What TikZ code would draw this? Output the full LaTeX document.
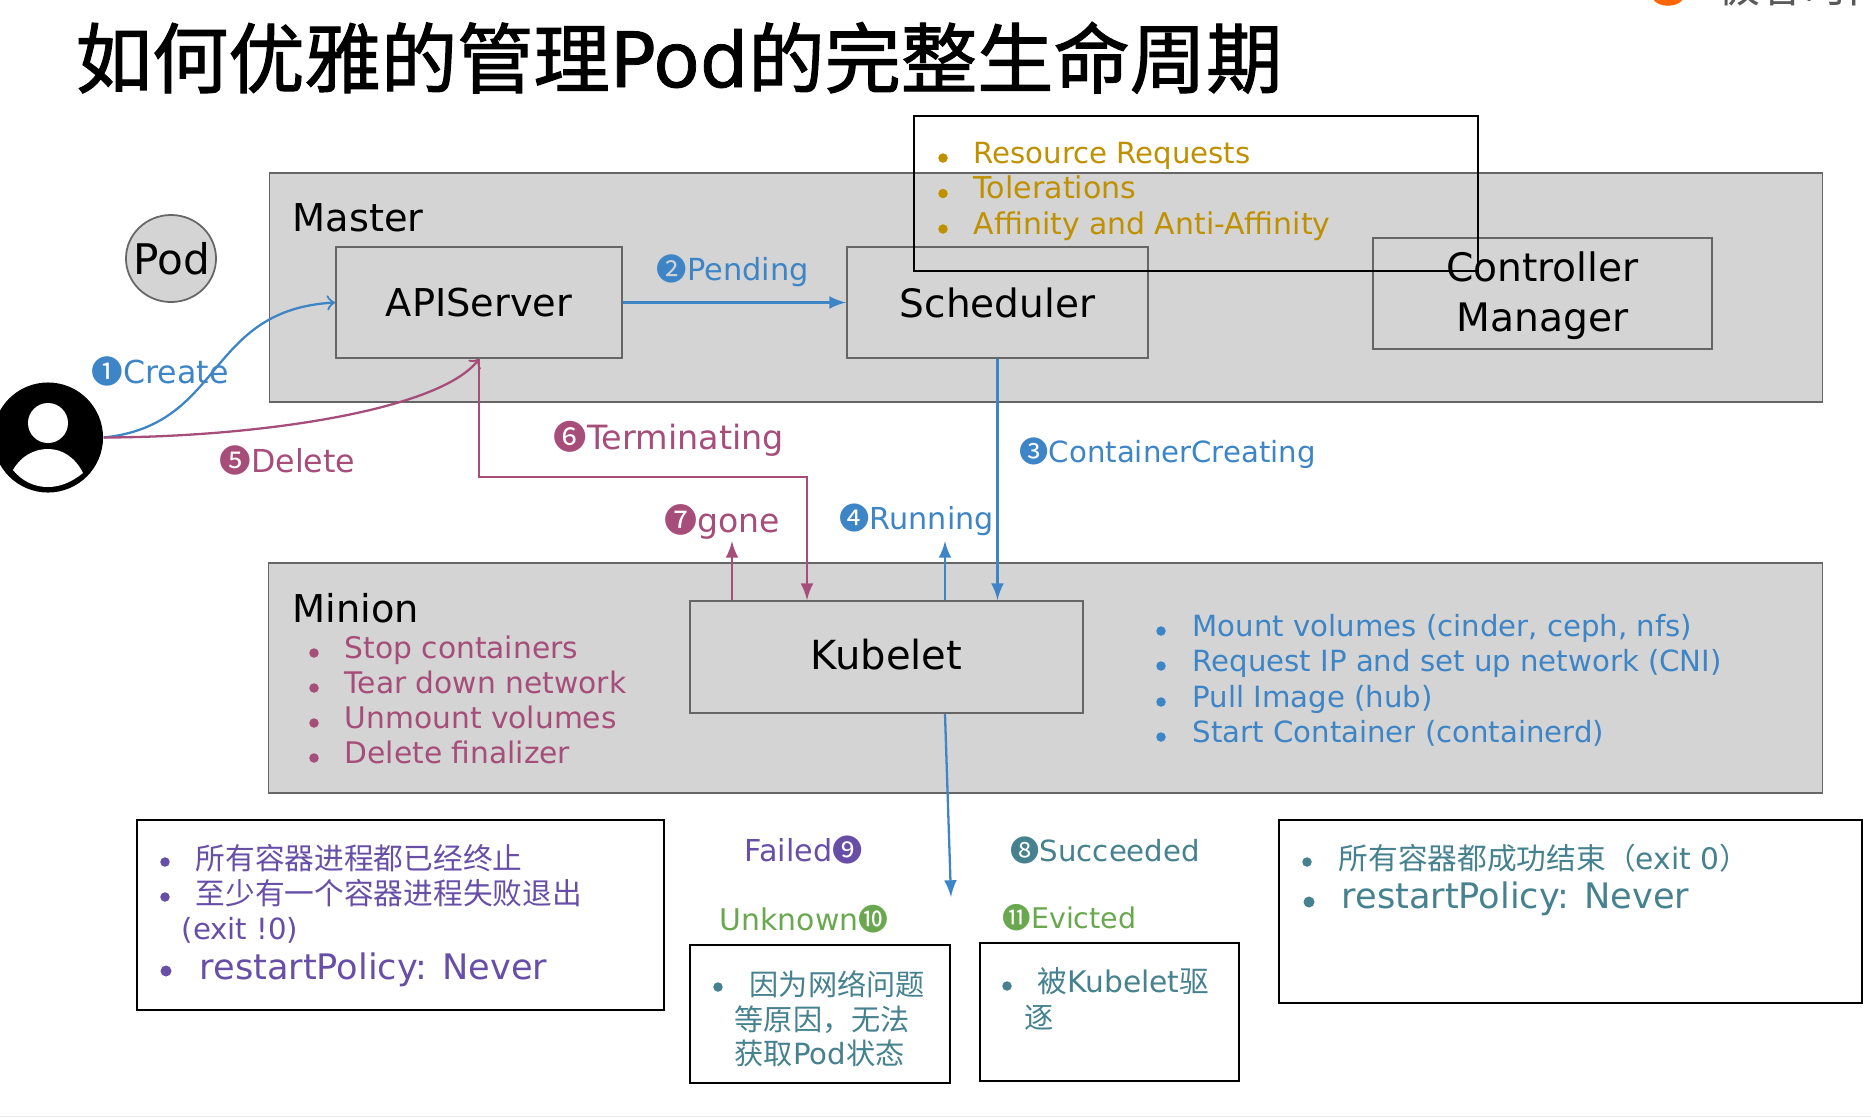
\documentclass[tikz,border=0pt]{standalone}
\usepackage{fontspec}
\setmainfont{DejaVu Sans}
\newfontfamily\cjk{Noto Sans CJK SC}
\newfontfamily\cjktitle[FakeBold=1.5]{Noto Sans CJK SC}
\newfontfamily\latintitle[FakeBold=1]{DejaVu Sans}
\newcommand{\zh}[1]{{\cjk #1}}
\usepackage{tikz}
\usetikzlibrary{arrows}
\usetikzlibrary{positioning}
\usetikzlibrary{shapes.geometric}
\definecolor{panelgray}{HTML}{D4D4D4}
\definecolor{edgegray}{HTML}{666666}
\definecolor{stepblue}{HTML}{3D85C6}
\definecolor{stepred}{HTML}{A64D79}
\definecolor{stepgold}{HTML}{BF9000}
\definecolor{steppurple}{HTML}{674EA7}
\definecolor{stepteal}{HTML}{45818E}
\definecolor{stepgreen}{HTML}{6AA84F}
\tikzset{
  panel/.style={draw=edgegray,fill=panelgray,line width=.5pt,inner sep=0pt},
  compbox/.style={panel,align=center,font=\fontsize{10.9}{14.2}\selectfont},
  notebox/.style={draw=black,line width=.55pt,inner sep=0pt},
  heading/.style={anchor=base west,inner sep=0pt,font=\fontsize{10.9}{13}\selectfont},
  steptext/.style={anchor=base west,inner sep=0pt,text=#1},
  listtext/.style={anchor=base west,inner sep=0pt,text=#1,font=\fontsize{8.3}{10}\selectfont},
  bigtext/.style={anchor=base west,inner sep=0pt,text=#1,font=\fontsize{10}{12}\selectfont},
  listdot/.style={circle,fill=#1,inner sep=0pt,minimum size=.095cm},
  flow/.style={line width=.65pt,color=#1}
}
\begin{document}
\begin{tikzpicture}[x=.01cm,y=-.01cm]
\useasboundingbox (0,0) rectangle (1871,1117);
\fill[black!7] (0,1115.5) rectangle (1871,1117);
% corner logo
\fill[orange!80!red] (1653,-1) .. controls (1658,8) and (1678,8) .. (1683,-1) -- cycle;
\node[anchor=base west,inner sep=0pt,text=black!65,font=\cjk\fontsize{12.5}{15}\selectfont] (logotext) at (1716,2) {极客时间};
% title
\node[anchor=base west,inner sep=0pt,font=\fontsize{21.7}{25}\selectfont] (title) at (75,87)
{{\cjktitle 如何优雅的管理}{\latintitle Pod}{\cjktitle 的完整生命周期}};

% panels
\node[panel,minimum width=15.52cm,minimum height=2.29cm] (master) at (1046,287.5) {};
\node[panel,minimum width=15.53cm,minimum height=2.30cm] (minion) at (1045.5,678) {};
\node[heading] (masterlabel) at (292,231) {Master};
\node[heading] (minionlabel) at (292,622) {Minion};
\node[panel,fill=panelgray,minimum width=.9cm,minimum height=.87cm,ellipse] (pod) at (171,258.5) {};
\node[font=\fontsize{12}{14}\selectfont,inner sep=0pt] (podlabel) at (172,258.5) {Pod};

\node[compbox,minimum width=2.86cm,minimum height=1.11cm] (apiserver) at (479,302.5) {APIServer};
\node[compbox,font=\fontsize{11.1}{14.2}\selectfont,minimum width=3.01cm,minimum height=1.11cm] (scheduler) at (997.5,302.5) {Scheduler};
\node[compbox,font=\fontsize{11.15}{14.2}\selectfont,minimum width=3.39cm,minimum height=1.11cm] (controller) at (1542.5,293.5)
{\raisebox{-.7pt}[\height][\depth]{Controller}\\\raisebox{-.7pt}[\height][\depth]{Manager}};
\node[compbox,font=\fontsize{11.4}{14.2}\selectfont,minimum width=3.93cm,minimum height=1.12cm] (kubelet) at (886.5,657)
{\raisebox{.7pt}[\height][\depth]{Kubelet}};

% boxes that hold the notes
\node[notebox,minimum width=5.64cm,minimum height=1.55cm] (schedbox) at (1196,193.5) {};
\node[notebox,minimum width=5.27cm,minimum height=1.90cm] (failedbox) at (400.5,915) {};
\node[notebox,minimum width=2.60cm,minimum height=1.38cm] (unknownbox) at (820,1014) {};
\node[notebox,minimum width=2.59cm,minimum height=1.38cm] (evictedbox) at (1109.5,1012) {};
\node[notebox,minimum width=5.83cm,minimum height=1.83cm] (succeededbox) at (1570.5,911.5) {};

% user
\node[circle,fill=black,minimum size=1.10cm,inner sep=0pt] (user) at (48,437.5) {};
\fill[white] (48,423) circle (20);
\fill[white] (13,470) .. controls (21,456) and (34,449) .. (48,449)
  .. controls (62,449) and (75,457) .. (83,473)
  .. controls (72,482) and (60,487) .. (48,487)
  .. controls (34,487) and (22,481) .. (13,470);

% step labels
\foreach \name/\col/\sz/\xpos/\ypos/\txt in {
  create/stepblue/9/91/383/\zh{❶}Create,
  pending/stepblue/8.65/656/280/\zh{❷}Pending,
  creating/stepblue/8.3/1019/462/\zh{❸}ContainerCreating,
  running/stepblue/8.6/839/529/\zh{❹}Running,
  delete/stepred/9/219/472/\zh{❺}Delete,
  terminating/stepred/9.5/553/449/\zh{❻}Terminating,
  gone/stepred/9.4/664/532/\zh{❼}gone,
  succeeded/stepteal/8.3/1010/861/\zh{❽}Succeeded,
  failed/steppurple/8.6/744/861/Failed\zh{❾},
  unknown/stepgreen/8.5/719/930/Unknown\zh{❿},
  evicted/stepgreen/8.1/1002/928/\zh{⓫}Evicted}
\node[steptext=\col,font=\fontsize{\sz}{11}\selectfont] (\name) at (\xpos,\ypos) {\txt};

% lists
\foreach \i/\sz/\ypos/\txt in {1/8.3/163/Resource Requests,2/8.55/198.5/Tolerations,3/8.5/234/Affinity and Anti-Affinity}{
\node[listdot=stepgold] (scheddot\i) at (943,\ypos-5) {};
\node[listtext=stepgold,font=\fontsize{\sz}{10}\selectfont] (sched\i) at (973,\ypos) {\txt};
}
\foreach \i/\ypos/\txt in {1/658/Stop containers,2/693/Tear down network,3/728/Unmount volumes,4/763/Delete finalizer}{
\node[listdot=stepred] (stopdot\i) at (314,\ypos-5) {};
\node[listtext=stepred,font=\fontsize{8.45}{10}\selectfont] (stop\i) at (344,\ypos) {\txt};
}
\foreach \i/\ypos/\txt in {1/636/{Mount volumes (cinder, ceph, nfs)},2/671/{Request IP and set up network (CNI)},3/707/{Pull Image (hub)},4/742/{Start Container (containerd)}}{
\node[listdot=stepblue] (startdot\i) at (1161,\ypos-5) {};
\node[listtext=stepblue] (start\i) at (1192,\ypos) {\txt};
}

% failed
\node[listdot=steppurple] (faildot1) at (165,862) {};
\node[listtext=steppurple,font=\fontsize{8.45}{10}\selectfont] (fail1) at (195,869) {\zh{所有容器进程都已经终止}};
\node[listdot=steppurple] (faildot2) at (165,897) {};
\node[listtext=steppurple,font=\fontsize{8.45}{10}\selectfont] (fail2) at (195,904) {\zh{至少有一个容器进程失败退出}};
\node[listtext=steppurple] (fail3) at (181,939) {(exit !0)};
\node[listdot=steppurple,minimum size=.11cm] (faildot4) at (166,971) {};
\node[bigtext=steppurple] (fail4) at (199,979) {restartPolicy: Never};
% unknown
\node[listdot=stepteal] (unknowndot) at (718,987) {};
\node[listtext=stepteal] (unknown1) at (749,995) {\zh{因为网络问题}};
\node[listtext=stepteal] (unknown2) at (734,1030) {\zh{等原因，无法}};
\node[listtext=stepteal] (unknown3) at (734,1064) {\zh{获取}Pod\zh{状态}};
% evicted
\node[listdot=stepteal] (evicteddot) at (1007,986) {};
\node[listtext=stepteal,font=\fontsize{8.45}{10}\selectfont] (evicted1) at (1037,992) {\zh{被}Kubelet\zh{驱}};
\node[listtext=stepteal] (evicted2) at (1024,1028) {\zh{逐}};
% succeeded
\node[listdot=stepteal] (okdot1) at (1307,862) {};
\node[listtext=stepteal,font=\fontsize{8.45}{10}\selectfont] (ok1) at (1338,869) {\zh{所有容器都成功结束（}exit 0\zh{）}};
\node[listdot=stepteal,minimum size=.11cm] (okdot2) at (1309,902) {};
\node[bigtext=stepteal] (ok2) at (1341,908) {restartPolicy: Never};

% connectors
\coordinate (runtip) at (945,541);
\coordinate (gonetip) at (732,541);
\coordinate (termturn) at (807,477);
\coordinate (phasetip) at (951,897);
\draw[flow=stepblue,->] (user.east) .. controls (225,425) and (205,310) .. (apiserver.west);
\draw[flow=stepred,->] (user.east) .. controls (260,437) and (440,410) .. (apiserver.south);
\draw[flow=stepblue,-latex] (apiserver.east) -- (scheduler.west);
\draw[flow=stepblue,-latex] (scheduler.south) -- (scheduler.south |- kubelet.north);
\draw[flow=stepblue,-latex] (runtip |- kubelet.north) -- (runtip);
\draw[flow=stepred,-latex] (gonetip |- kubelet.north) -- (gonetip);
\draw[flow=stepred,-latex] (apiserver.south) |- (termturn) -- (termturn |- kubelet.north);
\draw[flow=stepblue,-latex] (runtip |- kubelet.south) -- (phasetip);
\end{tikzpicture}
\end{document}
